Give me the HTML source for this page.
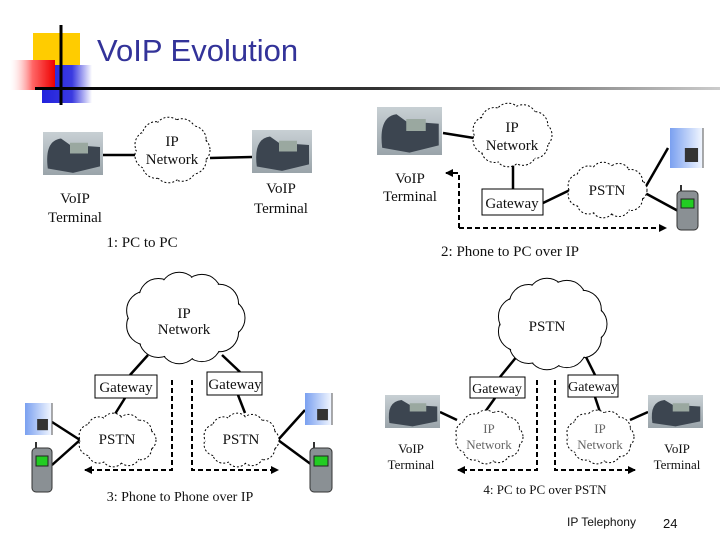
<!DOCTYPE html>
<html><head><meta charset="utf-8"><style>
body{margin:0;background:#fff}
svg{display:block}
text{font-family:"Liberation Serif",serif;font-size:15px;fill:#111}
.s{font-family:"Liberation Sans",sans-serif}
</style></head><body>
<svg id="c" width="720" height="540" viewBox="0 0 720 540" xmlns="http://www.w3.org/2000/svg">
<defs>
<linearGradient id="red" x1="0" x2="1"><stop offset="0" stop-color="#fff" stop-opacity="0.2"/><stop offset="0.5" stop-color="#f66"/><stop offset="1" stop-color="#e00"/></linearGradient>
<linearGradient id="blue" x1="0" x2="1"><stop offset="0" stop-color="#2222dd"/><stop offset="0.6" stop-color="#3a3ae0"/><stop offset="1" stop-color="#fff"/></linearGradient>
<linearGradient id="hl" x1="0" x2="1"><stop offset="0" stop-color="#000"/><stop offset="0.5" stop-color="#333"/><stop offset="1" stop-color="#ccc"/></linearGradient>
<linearGradient id="ph" x1="0" x2="0" y1="0" y2="1"><stop offset="0" stop-color="#c8d0d4"/><stop offset="1" stop-color="#9aa4aa"/></linearGradient>
<linearGradient id="dk" x1="0" x2="1"><stop offset="0" stop-color="#7aa0f0"/><stop offset="1" stop-color="#f4f8ff"/></linearGradient>
<marker id="ar" markerWidth="8" markerHeight="8" refX="7" refY="4" orient="auto" markerUnits="userSpaceOnUse"><path d="M0,0 L8,4 L0,8Z" fill="#000"/></marker>
</defs>
<rect x="33" y="33" width="47" height="37" fill="#ffcc00"/>
<rect x="42" y="65" width="50" height="38" fill="url(#blue)"/>
<rect x="10" y="60" width="45" height="30" fill="url(#red)"/>
<line x1="61" y1="25" x2="61" y2="105" stroke="#000" stroke-width="3"/>
<rect x="35" y="87" width="685" height="3" fill="url(#hl)"/>
<text x="97" y="61" class="s" style="font-size:31px;fill:#333399">VoIP Evolution</text>
<g id="g" stroke="#000" stroke-width="2.5" fill="none">
<line x1="103" y1="155" x2="135" y2="155"/><line x1="210" y1="158" x2="252" y2="157"/>
<line x1="443" y1="133" x2="474" y2="138"/><line x1="513" y1="165" x2="513" y2="189"/>
<line x1="543" y1="203" x2="570" y2="190"/><line x1="645" y1="188" x2="668" y2="148"/><line x1="645" y1="193" x2="680" y2="212"/>
<line x1="148" y1="355" x2="130" y2="375"/><line x1="125" y1="398" x2="115" y2="414"/>
<line x1="222" y1="355" x2="240" y2="372"/><line x1="238" y1="395" x2="245" y2="413"/>
<line x1="80" y1="440" x2="52" y2="422"/><line x1="80" y1="440" x2="52" y2="465"/>
<line x1="278" y1="440" x2="305" y2="410"/><line x1="278" y1="440" x2="312" y2="465"/>
<line x1="518" y1="355" x2="500" y2="377"/><line x1="495" y1="398" x2="485" y2="412"/>
<line x1="585" y1="355" x2="595" y2="375"/><line x1="595" y1="397" x2="600" y2="412"/>
<line x1="440" y1="412" x2="457" y2="420"/><line x1="630" y1="420" x2="648" y2="412"/>
</g>
<g stroke="#000" stroke-width="2" stroke-dasharray="5,3" fill="none">
<path d="M459,228 L459,173 L446,173" marker-end="url(#ar)"/>
<path d="M459,228 L666,228" marker-end="url(#ar)"/>
<path d="M172,380 L172,470 L85,470" marker-end="url(#ar)"/>
<path d="M192,380 L192,470 L278,470" marker-end="url(#ar)"/>
<path d="M537,380 L537,470 L458,470" marker-end="url(#ar)"/>
<path d="M555,380 L555,470 L635,470" marker-end="url(#ar)"/>
</g>
<g id="clouds"></g>
<g id="phones"></g>
<g fill="#fff" stroke="#000" stroke-width="1">
<rect x="482" y="189" width="61" height="26"/>
<rect x="95" y="375" width="62" height="23"/><rect x="207" y="372" width="55" height="23"/>
<rect x="470" y="377" width="55" height="21"/><rect x="568" y="375" width="50" height="22"/>
</g>
<text x="512" y="208" text-anchor="middle">Gateway</text>
<text x="126" y="392" text-anchor="middle">Gateway</text><text x="235" y="389" text-anchor="middle">Gateway</text>
<text x="497" y="393" text-anchor="middle" style="font-size:14px">Gateway</text><text x="593" y="391" text-anchor="middle" style="font-size:14px">Gateway</text>
<g text-anchor="middle">
<text x="172" y="146">IP</text><text x="172" y="164">Network</text>
<text x="512" y="132">IP</text><text x="512" y="150">Network</text>
<text x="607" y="195">PSTN</text>
<text x="184" y="318">IP</text><text x="184" y="334">Network</text>
<text x="117" y="444">PSTN</text><text x="241" y="444">PSTN</text>
<text x="547" y="331">PSTN</text>
<text x="489" y="433" style="font-size:13px;fill:#666">IP</text><text x="489" y="449" style="font-size:13px;fill:#666">Network</text>
<text x="600" y="433" style="font-size:13px;fill:#666">IP</text><text x="600" y="449" style="font-size:13px;fill:#666">Network</text>
<text x="75" y="203">VoIP</text><text x="75" y="222">Terminal</text>
<text x="281" y="193">VoIP</text><text x="281" y="213">Terminal</text>
<text x="410" y="183">VoIP</text><text x="410" y="201">Terminal</text>
<text x="411" y="453" style="font-size:13px">VoIP</text><text x="411" y="469" style="font-size:13px">Terminal</text>
<text x="677" y="453" style="font-size:13px">VoIP</text><text x="677" y="469" style="font-size:13px">Terminal</text>
<text x="142" y="247">1: PC to PC</text>
<text x="510" y="256">2: Phone to PC over IP</text>
<text x="180" y="501" style="font-size:14px">3: Phone to Phone over IP</text>
<text x="545" y="494" style="font-size:13px">4: PC to PC over PSTN</text>
</g>
<text x="567" y="526" class="s" style="font-size:12px">IP Telephony</text>
<text x="663" y="528" class="s" style="font-size:13px">24</text>
</svg>
<script>
var NS="http://www.w3.org/2000/svg";
function el(p,t,a){var e=document.createElementNS(NS,t);for(var k in a)e.setAttribute(k,a[k]);p.appendChild(e);return e;}
var C=document.getElementById('clouds');
function cloud(cx,cy,rx,ry,dash){
 var g=el(C,'g',{}),n=11,r=Math.min(rx,ry)*0.42,pts=[];
 for(var i=0;i<n;i++){var a=i/n*2*Math.PI;pts.push([cx+(rx-r)*Math.cos(a),cy+(ry-r)*Math.sin(a)]);}
 pts.forEach(function(p){el(g,'circle',{cx:p[0],cy:p[1],r:r,fill:'#fff',stroke:'#000','stroke-width':1,'stroke-dasharray':dash?'2,2':'none'});});
 pts.forEach(function(p){el(g,'circle',{cx:p[0],cy:p[1],r:r-0.8,fill:'#fff'});});
 el(g,'ellipse',{cx:cx,cy:cy,rx:rx-r,ry:ry-r,fill:'#fff'});
}
cloud(172,150,38,33,1);cloud(512,135,40,32,1);cloud(607,190,40,28,1);
cloud(185,318,60,46,0);cloud(117,440,39,27,1);cloud(241,440,38,27,1);
cloud(552,324,55,46,0);cloud(489,437,34,27,1);cloud(600,437,34,27,1);
var P=document.getElementById('phones');
function ip(x,y,w,h){var g=el(P,'g',{});
 el(g,'rect',{x:x,y:y,width:w,height:h,fill:'url(#ph)'});
 el(g,'path',{d:'M'+(x+w*0.08)+','+(y+h*0.85)+' Q'+(x+w*0.02)+','+(y+h*0.2)+' '+(x+w*0.3)+','+(y+h*0.15)+' L'+(x+w*0.45)+','+(y+h*0.3)+' L'+(x+w*0.95)+','+(y+h*0.35)+' L'+(x+w*0.95)+','+(y+h*0.8)+' L'+(x+w*0.5)+','+(y+h*0.95)+'Z',fill:'#3c4550'});
 el(g,'rect',{x:x+w*0.45,y:y+h*0.25,width:w*0.3,height:h*0.25,fill:'#9aa8a0'});}
ip(43,132,60,43);ip(252,130,60,43);ip(377,107,65,48);ip(385,395,55,33);ip(648,395,55,33);
function desk(x,y,w,h){var g=el(P,'g',{});
 el(g,'rect',{x:x,y:y,width:w,height:h,fill:'url(#dk)'});
 el(g,'rect',{x:x+w*0.45,y:y+h*0.5,width:w*0.4,height:h*0.35,fill:'#333'});
 el(g,'line',{x1:x+w,y1:y,x2:x+w,y2:y+h,stroke:'#555'});}
desk(670,128,33,40);desk(25,403,27,32);desk(305,393,27,32);
function cell(x,y,w,h){var g=el(P,'g',{});
 el(g,'rect',{x:x,y:y+6,width:w,height:h-6,rx:4,fill:'#8a9094',stroke:'#333'});
 el(g,'line',{x1:x+4,y1:y+6,x2:x+4,y2:y,stroke:'#333','stroke-width':2});
 el(g,'rect',{x:x+4,y:y+14,width:w-8,height:h*0.2,fill:'#2c2',stroke:'#222'});}
cell(677,185,21,45);cell(32,442,20,50);cell(310,442,22,50);
</script>
</body></html>
